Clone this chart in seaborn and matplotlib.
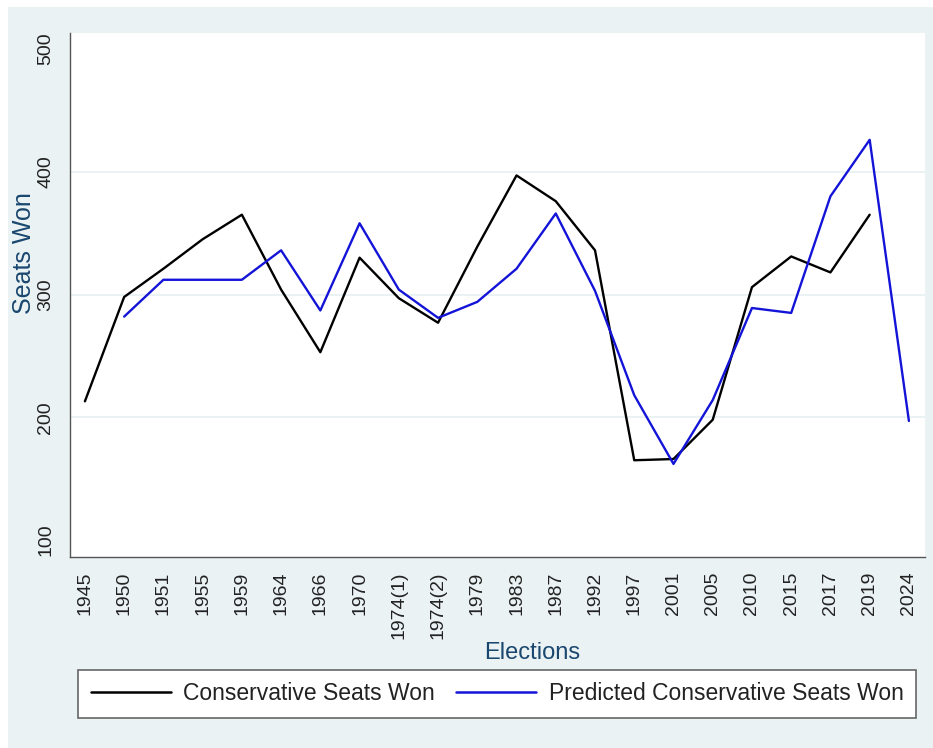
import numpy as np
import pandas as pd
import seaborn as sns
import matplotlib.pyplot as plt
from matplotlib.patches import Rectangle

# election labels (categorical x axis)
elections = ['1945', '1950', '1951', '1955', '1959', '1964', '1966', '1970',
             '1974(1)', '1974(2)', '1979', '1983', '1987', '1992', '1997',
             '2001', '2005', '2010', '2015', '2017', '2019', '2024']
# actual seats (no value for 2024)
seats_won = [213, 298, 321, 345, 365, 304, 253, 330, 297, 277, 339, 397,
             376, 336, 165, 166, 198, 306, 331, 318, 365, np.nan]
# model prediction (no value for 1945)
seats_pred = [np.nan, 282, 312, 312, 312, 336, 287, 358, 304, 281, 294, 321,
              366, 303, 218, 162, 214, 289, 285, 380, 426, 197]
series_names = ['Conservative Seats Won', 'Predicted Conservative Seats Won']
y_ticks = [100, 200, 300, 400, 500]

df = pd.concat([
    pd.DataFrame({'Elections': elections, 'Seats': seats_won, 'series': series_names[0]}),
    pd.DataFrame({'Elections': elections, 'Seats': seats_pred, 'series': series_names[1]}),
]).dropna()

BG = '#EAF2F3'
NAVY = '#1A476F'
W, H = 933, 748

sns.set_style('white')
plt.rcParams['font.family'] = ['Liberation Sans', 'DejaVu Sans']

fig = plt.figure(figsize=(W / 100, H / 100), dpi=100)
fig.patch.set_facecolor('white')
# stata-ish graph region
fig.patches.append(Rectangle((8 / W, 0), 1, (H - 7) / H, transform=fig.transFigure,
                             facecolor=BG, edgecolor='none', zorder=-10))

ax = fig.add_axes([70 / W, (H - 557) / H, 855 / W, 524 / H])
ax.set_facecolor('white')

sns.lineplot(data=df, x='Elections', y='Seats', hue='series', sort=False,
             palette=['#000000', '#1414D8'], linewidth=1.7, ax=ax, legend=False)

ax.set_ylim(86.2, 513)
ax.set_xlim(-0.38, 21.41)
ax.set_yticks(y_ticks)

for s in ['top', 'right']:
    ax.spines[s].set_visible(False)
for s in ['left', 'bottom']:
    ax.spines[s].set_color('#555555')
    ax.spines[s].set_linewidth(1.0)

ax.tick_params(axis='both', direction='out', length=6.5, width=1.0, color='#555555',
               labelcolor='#222222', labelsize=14)
ax.tick_params(axis='x', labelrotation=90, pad=4)
ax.tick_params(axis='y', labelrotation=90, pad=5)
for lab in ax.get_yticklabels():
    lab.set_va('center')

# grid lines only at inner ticks
ax.grid(axis='y', color=BG, linewidth=1.4)
ax.grid(axis='x', visible=False)
glines = ax.yaxis.get_gridlines()
glines[0].set_visible(False)
glines[-1].set_visible(False)

ax.set_ylabel('Seats Won', fontsize=18, color=NAVY)
ax.yaxis.label.set_va('center')
ax.yaxis.set_label_coords(-0.054, 0.58)
ax.set_xlabel('Elections', fontsize=17, color=NAVY)
ax.xaxis.label.set_va('center')
ax.xaxis.set_label_coords(0.540, -0.183)

handles = [plt.Line2D([], [], color='#000000', lw=1.8),
           plt.Line2D([], [], color='#1414D8', lw=1.8)]
leg = fig.legend(handles, series_names, loc='center', ncol=2, mode='expand',
                 bbox_to_anchor=(78 / W, (H - 718) / H, 838 / W, 48 / H),
                 prop={'size': 16.5},
                 handlelength=3.5, handletextpad=0.55, columnspacing=0.5,
                 borderpad=0.55, borderaxespad=0, fancybox=False, framealpha=1)
leg.get_frame().set_edgecolor('#666666')
leg.get_frame().set_linewidth(1.2)
for t in leg.get_texts():
    t.set_color('#222222')

fig.savefig('out.png', dpi=100)
